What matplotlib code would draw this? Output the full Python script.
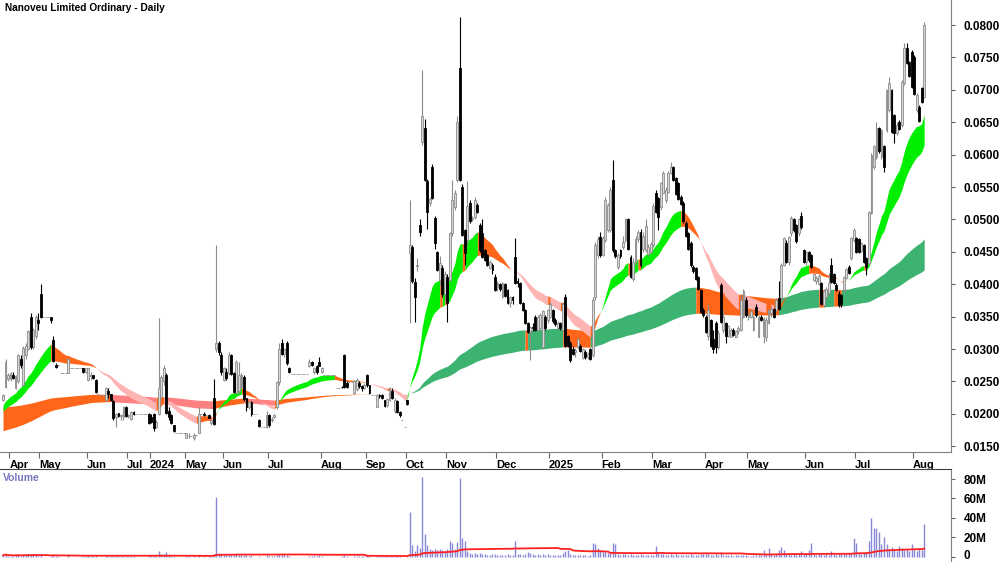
import numpy as np
import pandas as pd
import matplotlib
matplotlib.use("Agg")
import matplotlib.pyplot as plt
import matplotlib.transforms as mtransforms

plt.rcParams['font.family'] = ['Liberation Sans', 'DejaVu Sans']

# daily OHLC in thousandths of a dollar (0.0250 -> 25.0)
opens = [
    22.2, 24.2, 25.3, 25.3, 26.0, 24.0, 25.0, 28.5, 24.5, 29.0,
    30.0, 35.0, 30.3, 32.0, 34.5, 38.5, 35, 35, 35, 35.0,
    31.4, 27.6, 27.5, 26.3, 26.3, 26.3, 26.3, 27, 27, 27,
    27, 27, 27.0, 26.5, 25.2, 25.8, 26.0, 25.2, 23, 22.9,
    22.9, 22.1, 23.5, 23.0, 21.9, 19.5, 20.2, 19.6, 19.5, 21.0,
    19.6, 19.2, 20.3, 20, 20, 20, 20, 20, 20.0, 19.5,
    20.0, 18.0, 20.0, 22.6, 25.0, 26.0, 20.5, 19.8, 18.2, 17,
    17, 17, 17, 16.3, 16.5, 16.6, 16.2, 16.8, 17.0, 20,
    20.0, 19.8, 19.8, 18.6, 22.5, 30.0, 31.0, 29.0, 25.2, 26.5,
    26.3, 29.0, 26.3, 23.2, 23.5, 24.2, 25.7, 22.5, 21.0, 21.8,
    20, 20, 19.1, 18, 18, 18.0, 19.8, 19.0, 19.5, 21.1,
    24.9, 31.0, 29.2, 31.0, 27.0, 26.1, 26.1, 26.1, 26.1, 26.1,
    26.1, 26.1, 27.3, 28.0, 26.4, 27.3, 28.0, 26.4, 26, 26,
    26, 26, 26, 24, 24, 24.2, 29.0, 24.8, 24.9, 24.9,
    23.2, 23.8, 24.8, 24.3, 24.0, 26.0, 24.4, 22.9, 22.9, 21.1,
    22.9, 22.9, 22.1, 21.3, 22.1, 23.5, 20.5, 22.0, 20.3, 19.1,
    18, 22.1, 44.8, 45.7, 40.3, 42.8, 49.2, 62.0, 64.1, 56.0,
    52.5, 58.1, 50.2, 45.0, 40.6, 42.5, 38.5, 41.1, 40.7, 47.9,
    51.9, 56.1, 73.4, 55.0, 48.4, 46.8, 52.5, 50.0, 50.4, 52.2,
    49.1, 47.9, 45.3, 44.5, 42.5, 43.0, 41.1, 39.5, 40.0, 38.0,
    40.0, 39.1, 37.1, 38.0, 44.2, 40.5, 40.2, 37.1, 36.0, 34.0,
    32.6, 33.4, 35.0, 33.0, 33.3, 30.3, 35.0, 34.5, 35.0, 36.0,
    34.5, 33.2, 34.0, 33.0, 38.0, 32.0, 31.0, 30.0, 29.5, 30.3,
    30.5, 28.6, 29.5, 28.8, 30.0, 29.0, 38.0, 44.5, 47.3, 44.5,
    46.8, 48.4, 48.4, 56.1, 45.3, 42.7, 45.3, 45.8, 46.8, 50.0,
    44.2, 40.8, 43.5, 47.0, 48.1, 45.5, 45.3, 44.6, 45.0, 46.0,
    54.1, 53.3, 51.9, 54.1, 53.0, 54.3, 57.2, 58.1, 56.4, 55.6,
    53.5, 52.5, 49.5, 47.9, 46.4, 42.7, 42.5, 41.1, 39.1, 36.0,
    35.0, 32.0, 34.5, 31.5, 34.0, 30.3, 39.8, 33.0, 34.0, 32.0,
    31.9, 33.0, 31.9, 32.8, 33.0, 35.0, 37.6, 35.0, 35.0, 33.0,
    36.5, 31.9, 35.0, 32.0, 31.9, 34.0, 35.5, 36.2, 36.0, 37.9,
    37.9, 43.0, 46.4, 43.5, 47.9, 50.0, 49.1, 47.9, 50.5, 45.3,
    43.5, 45.0, 44.5, 40.7, 40.5, 40.0, 40.2, 36.8, 38.0, 38.6,
    43.0, 41.5, 39.9, 38.5, 38.3, 39.1, 41.0, 42.7, 44.0, 46.8,
    47.1, 47.0, 45.2, 46.0, 44.0, 43.3, 51.0, 58.1, 59.6, 64.1,
    59.6, 61.3, 63.8, 66.9, 70.0, 66.1, 63.3, 65.0, 64.6, 71.1,
    76.5, 74.3, 75.8, 75.1, 66.9, 67.4, 70.3, 68.9,
]
highs = [
    23.0, 28.5, 26.3, 26.5, 26.4, 26.0, 29.3, 29.0, 30.5, 31.0,
    33.0, 35.5, 33.3, 35.3, 35.5, 40.0, 35, 35, 35, 35.0,
    32.0, 27.8, 27.5, 26.3, 26.3, 26.3, 28.6, 27, 27, 27,
    27, 27, 27.0, 27.0, 27.0, 26.5, 26.0, 25.3, 23, 22.9,
    22.9, 24.2, 24.0, 23.0, 22.2, 20.2, 20.2, 20.0, 21.2, 21.2,
    20.0, 20.5, 20.5, 20, 20, 20, 20, 20, 20.2, 20.0,
    20.1, 19.0, 34.8, 26.0, 27.5, 26.3, 21.0, 20.0, 18.3, 17,
    17, 17, 17, 17.0, 17.0, 16.6, 17.0, 16.8, 21.0, 20,
    20.3, 19.8, 20.0, 19.0, 25.3, 46.0, 31.3, 29.5, 27.2, 27.0,
    29.5, 29.3, 26.5, 28.3, 28.0, 26.3, 26.0, 22.5, 22.0, 22.0,
    20, 20, 19.2, 18, 18, 20.5, 20.0, 19.5, 20.0, 25.0,
    31.0, 31.5, 30.2, 31.3, 27.2, 26.1, 26.1, 26.1, 26.1, 26.1,
    26.1, 26.1, 28.5, 28.2, 27.2, 27.5, 28.7, 27.2, 26, 26,
    26, 26, 26, 24, 24, 24.3, 29.2, 25.0, 24.9, 24.9,
    25.2, 25.5, 25.0, 24.5, 24.8, 26.2, 24.4, 22.9, 22.9, 23.0,
    23.0, 23.0, 22.2, 22.5, 24.2, 24.0, 22.5, 22.2, 20.5, 19.1,
    18, 22.2, 53.0, 46.0, 41.0, 44.0, 50.0, 73.1, 65.5, 56.2,
    53.5, 58.5, 50.5, 45.2, 44.3, 43.0, 42.0, 41.5, 48.0, 56.1,
    54.5, 66.0, 81.2, 55.5, 48.5, 56.0, 53.0, 50.5, 53.5, 52.5,
    49.5, 50.0, 45.5, 44.6, 43.8, 43.2, 41.5, 40.5, 40.2, 40.3,
    40.2, 39.3, 38.2, 38.2, 47.1, 41.0, 40.3, 37.2, 36.1, 34.2,
    33.5, 34.0, 35.3, 35.2, 35.5, 36.0, 35.3, 36.2, 37.2, 36.2,
    34.8, 34.3, 34.2, 37.2, 38.5, 32.2, 31.2, 30.5, 30.2, 31.7,
    30.7, 30.2, 29.8, 29.5, 30.2, 38.0, 46.5, 47.5, 48.0, 47.5,
    53.5, 52.5, 55.0, 59.2, 45.5, 44.8, 45.5, 47.5, 50.2, 50.2,
    44.5, 44.0, 47.5, 48.3, 48.5, 48.0, 50.0, 46.2, 46.5, 52.5,
    54.5, 53.5, 55.8, 57.5, 55.0, 57.5, 58.9, 58.3, 56.6, 55.8,
    53.8, 52.8, 49.8, 48.0, 46.6, 43.0, 42.7, 41.3, 39.3, 36.3,
    35.2, 37.0, 34.7, 33.0, 34.3, 33.0, 40.2, 36.0, 34.2, 33.7,
    33.2, 33.3, 33.0, 33.5, 38.5, 39.3, 38.0, 35.5, 36.0, 35.2,
    37.0, 35.2, 35.2, 35.0, 35.0, 36.2, 36.5, 36.3, 37.8, 40.5,
    43.2, 47.3, 46.8, 47.5, 50.5, 50.2, 49.3, 50.2, 51.1, 45.5,
    45.2, 45.2, 44.7, 41.6, 41.3, 41.5, 40.4, 39.2, 39.5, 41.7,
    44.0, 41.8, 40.2, 39.0, 38.5, 41.3, 42.5, 43.0, 47.3, 48.6,
    47.3, 47.2, 46.5, 46.2, 44.2, 51.3, 60.2, 61.5, 65.0, 64.3,
    64.0, 61.5, 70.2, 72.0, 70.2, 66.3, 65.0, 65.3, 71.5, 77.2,
    77.2, 74.5, 76.2, 75.3, 69.5, 67.6, 70.5, 80.5,
]
lows = [
    22.0, 24.0, 25.0, 25.0, 25.3, 23.8, 24.8, 27.0, 24.3, 28.5,
    29.8, 30.0, 30.0, 31.5, 33.0, 34.8, 35, 35, 35, 34.0,
    28.0, 27.0, 27.3, 26.3, 26.3, 26.3, 26.3, 27, 27, 27,
    27, 27, 26.3, 26.3, 25.0, 25.2, 25.3, 23.2, 23, 22.9,
    22.9, 22.0, 22.5, 22.0, 19.1, 18.0, 19.5, 19.0, 19.1, 19.5,
    19.3, 19.0, 19.8, 20, 20, 20, 20, 20, 18.5, 18.6,
    17.3, 17.8, 19.8, 22.5, 24.5, 20.0, 19.0, 18.5, 17.2, 17,
    17, 17, 17, 16.2, 16.3, 16.6, 16.0, 16.8, 17.0, 20,
    19.6, 19.8, 19.3, 18.3, 18.3, 29.5, 29.0, 26.0, 25.0, 25.2,
    26.0, 26.0, 23.2, 23.0, 23.0, 24.0, 22.0, 20.5, 20.8, 19.7,
    20, 20, 18.0, 18, 18, 17.8, 18.0, 18.8, 19.3, 20.8,
    24.5, 29.0, 28.8, 27.6, 26.3, 26.1, 26.1, 26.1, 26.1, 26.1,
    26.1, 26.1, 27.2, 27.4, 26.2, 26.2, 27.3, 26.3, 26, 26,
    26, 26, 26, 24, 24, 24.0, 24.0, 24.0, 24.9, 24.9,
    23.0, 23.5, 24.0, 23.5, 23.8, 24.2, 23.0, 22.9, 22.9, 21.0,
    22.5, 22.3, 21.0, 21.0, 22.0, 22.3, 20.2, 20.1, 19.5, 19.1,
    18, 21.4, 34.0, 40.2, 34.2, 42.0, 47.5, 61.5, 56.0, 48.5,
    52.0, 53.2, 45.5, 42.0, 39.8, 38.0, 37.5, 34.2, 40.5, 47.5,
    51.5, 55.8, 56.0, 47.5, 43.0, 46.0, 49.5, 49.8, 50.0, 51.0,
    45.0, 44.0, 43.6, 42.8, 42.3, 41.5, 39.0, 39.0, 39.0, 37.8,
    38.0, 37.0, 36.5, 37.0, 40.0, 39.5, 37.0, 35.8, 33.8, 32.5,
    28.3, 32.8, 32.8, 32.8, 33.0, 30.0, 33.0, 34.0, 34.8, 34.0,
    33.6, 33.0, 33.0, 32.8, 30.3, 30.3, 28.0, 29.0, 28.8, 30.0,
    29.5, 28.5, 28.5, 28.5, 28.3, 28.8, 37.5, 44.0, 44.2, 44.3,
    46.5, 48.0, 48.0, 45.0, 44.0, 42.3, 44.0, 45.5, 46.5, 45.3,
    41.0, 40.5, 43.0, 46.5, 42.7, 45.0, 45.0, 44.3, 44.8, 45.8,
    51.0, 48.4, 51.5, 54.0, 52.5, 54.0, 57.0, 56.0, 53.7, 53.0,
    52.2, 49.5, 47.3, 45.3, 42.7, 41.8, 40.6, 39.1, 35.5, 35.0,
    32.4, 31.4, 30.3, 29.4, 29.4, 30.0, 34.0, 32.5, 31.0, 31.8,
    31.8, 32.0, 31.9, 32.3, 32.8, 34.8, 35.0, 34.5, 34.8, 32.8,
    35.0, 31.8, 34.3, 31.0, 31.2, 33.8, 35.0, 34.8, 35.8, 36.0,
    37.5, 42.8, 43.3, 43.0, 47.5, 48.0, 46.4, 47.5, 48.5, 43.3,
    43.0, 43.5, 42.5, 40.5, 40.0, 39.8, 36.8, 36.5, 37.8, 38.4,
    40.2, 40.0, 39.0, 36.5, 36.5, 38.8, 40.8, 41.5, 43.8, 46.5,
    44.8, 44.8, 45.0, 43.3, 41.4, 43.0, 50.8, 57.8, 59.3, 60.2,
    59.3, 57.3, 63.5, 66.5, 63.3, 61.8, 63.0, 63.8, 64.2, 70.8,
    74.0, 72.0, 70.3, 69.2, 66.5, 65.0, 68.0, 68.7,
]
closes = [
    22.9, 28.0, 26.0, 26.3, 25.5, 25.8, 29.0, 27.5, 30.2, 30.5,
    32.8, 30.3, 33.0, 35.0, 34.0, 35.0, 35, 35, 35, 34.5,
    28.2, 27.2, 27.5, 26.3, 26.3, 26.3, 28.5, 27, 27, 27,
    27, 27, 26.5, 27.0, 27.0, 26.0, 25.5, 23.4, 23, 22.9,
    22.9, 24.0, 23.0, 22.2, 19.3, 20.0, 19.6, 19.8, 21.0, 19.6,
    19.8, 20.3, 20.0, 20, 20, 20, 20, 20, 18.6, 18.8,
    17.8, 18.8, 24.0, 25.7, 27.0, 20.2, 19.5, 18.6, 17.3, 17,
    17, 17, 17, 17.0, 16.6, 16.6, 16.8, 16.8, 20.0, 20,
    19.8, 19.8, 19.4, 19.0, 18.5, 31.0, 29.5, 26.5, 27.0, 25.5,
    29.0, 26.2, 23.4, 28.0, 26.0, 26.0, 22.3, 21.0, 21.8, 20.0,
    20, 20, 18.1, 18, 18, 19.8, 18.2, 19.2, 19.8, 24.9,
    30.0, 29.2, 30.0, 27.8, 26.4, 26.1, 26.1, 26.1, 26.1, 26.1,
    26.1, 26.1, 28.0, 27.6, 27.0, 26.4, 27.4, 27.0, 26, 26,
    26, 26, 26, 24, 24, 24.1, 24.2, 24.2, 24.9, 24.9,
    25.0, 25.2, 24.3, 24.0, 24.5, 24.4, 23.2, 22.9, 22.9, 22.9,
    22.7, 22.4, 21.2, 22.3, 24.0, 22.5, 22.2, 20.3, 19.8, 19.1,
    18, 21.5, 46.0, 40.5, 38.0, 43.0, 48.0, 66.0, 56.1, 51.1,
    53.1, 53.3, 46.4, 42.2, 43.3, 38.5, 41.5, 37.1, 47.9, 53.0,
    54.1, 65.0, 56.1, 47.6, 44.8, 52.0, 49.8, 50.2, 53.0, 51.2,
    45.3, 44.2, 43.8, 43.0, 43.5, 42.2, 39.1, 40.2, 39.2, 40.2,
    38.2, 37.1, 38.0, 37.5, 40.2, 40.2, 37.1, 36.0, 34.0, 32.6,
    33.4, 33.2, 33.0, 35.0, 35.3, 35.8, 33.2, 36.0, 37.0, 34.3,
    33.8, 34.0, 33.2, 37.0, 30.5, 30.5, 28.3, 29.2, 29.8, 31.5,
    29.7, 30.0, 28.8, 29.2, 28.5, 37.5, 46.0, 47.0, 44.5, 47.2,
    53.0, 52.2, 54.5, 45.3, 44.3, 44.5, 44.3, 46.5, 50.0, 45.5,
    41.1, 43.5, 47.0, 48.0, 43.0, 47.5, 49.0, 45.8, 46.2, 52.0,
    51.2, 50.4, 55.6, 57.2, 54.6, 57.2, 58.1, 56.1, 53.9, 53.2,
    52.3, 49.8, 47.5, 45.5, 42.9, 42.0, 40.8, 39.3, 35.7, 35.2,
    32.6, 36.0, 30.5, 30.0, 30.3, 32.5, 34.2, 35.0, 32.0, 33.5,
    33.0, 32.2, 32.8, 33.2, 37.6, 39.0, 35.2, 35.3, 35.8, 35.0,
    35.2, 35.0, 34.5, 34.8, 34.5, 36.0, 36.2, 35.0, 37.6, 36.2,
    43.0, 47.1, 43.5, 47.3, 50.2, 48.3, 46.6, 50.0, 48.8, 43.5,
    45.0, 43.8, 42.7, 41.5, 41.0, 41.2, 37.0, 39.0, 39.2, 40.2,
    40.4, 40.2, 39.1, 36.8, 37.0, 41.1, 42.3, 41.8, 47.1, 48.4,
    45.0, 45.0, 46.3, 43.5, 42.7, 51.1, 60.0, 61.3, 64.1, 60.5,
    63.8, 58.1, 70.0, 71.0, 63.5, 63.3, 64.6, 64.0, 71.2, 76.5,
    74.1, 72.2, 70.5, 69.4, 69.2, 65.2, 68.1, 80.0,
]
# daily volume, millions of shares
volume_m = [
    1.5, 3.0, 1.0, 1.2, 0.8, 1.5, 2.5, 1.0, 2.0, 1.5,
    2.5, 3.0, 1.5, 2.0, 1.0, 3.0, 0.2, 0.2, 0.2, 0.5,
    2.0, 1.0, 0.5, 0.2, 0.2, 0.2, 1.5, 0.2, 0.2, 0.2,
    0.2, 0.2, 0.8, 1.0, 1.5, 1.0, 0.8, 1.5, 0.2, 0.2,
    0.2, 1.5, 1.0, 0.8, 2.0, 1.5, 1.0, 0.8, 1.5, 1.0,
    0.8, 1.0, 0.5, 0.2, 0.2, 0.2, 0.2, 0.2, 1.5, 1.0,
    2.0, 1.0, 6.0, 3.0, 2.5, 5.0, 1.5, 1.0, 1.0, 0.2,
    0.2, 0.2, 0.2, 0.8, 0.5, 0.2, 0.8, 0.2, 1.5, 0.2,
    0.8, 0.2, 0.8, 0.8, 3.0, 61.0, 4.0, 3.0, 2.0, 1.5,
    2.5, 2.0, 2.0, 2.5, 2.0, 1.5, 2.0, 1.5, 1.0, 1.5,
    0.2, 0.2, 1.0, 0.2, 0.2, 1.5, 1.0, 0.8, 0.8, 2.0,
    3.0, 2.5, 1.5, 2.0, 1.0, 0.2, 0.2, 0.2, 0.2, 0.2,
    0.2, 0.2, 1.0, 0.8, 1.0, 1.0, 1.5, 1.0, 0.2, 0.2,
    0.2, 0.2, 0.2, 0.2, 0.2, 0.5, 2.0, 1.0, 0.2, 0.2,
    1.0, 1.0, 0.8, 0.8, 0.8, 1.5, 1.0, 0.2, 0.2, 1.0,
    0.8, 0.8, 1.0, 0.8, 1.0, 0.8, 1.0, 1.0, 0.8, 0.2,
    0.2, 1.0, 46.0, 12.0, 6.0, 12.5, 9.0, 82.0, 23.0, 12.0,
    8.0, 7.0, 8.0, 7.0, 8.0, 7.0, 6.0, 8.0, 16.0, 14.0,
    8.0, 15.0, 81.0, 19.0, 16.0, 6.0, 4.0, 3.0, 4.0, 3.0,
    3.5, 3.0, 2.5, 2.0, 2.0, 2.5, 3.0, 2.0, 1.5, 2.0,
    2.0, 2.5, 1.5, 2.0, 16.0, 3.0, 2.5, 2.0, 3.0, 5.0,
    4.0, 2.5, 2.0, 2.5, 2.0, 3.0, 2.0, 2.5, 2.0, 1.5,
    2.0, 1.5, 2.0, 4.0, 6.0, 7.0, 3.0, 2.0, 2.0, 1.5,
    2.0, 1.5, 1.5, 1.0, 2.0, 14.0, 13.0, 9.0, 7.0, 5.0,
    6.0, 4.0, 5.0, 14.0, 13.0, 3.0, 2.0, 2.5, 3.0, 2.0,
    2.5, 2.0, 1.5, 2.0, 2.5, 1.5, 2.0, 1.5, 1.5, 2.0,
    11.0, 4.0, 3.0, 2.5, 2.0, 2.0, 3.0, 2.0, 2.5, 2.0,
    2.0, 1.5, 2.0, 2.0, 2.5, 1.5, 2.0, 2.0, 3.0, 2.5,
    3.0, 2.5, 2.0, 2.0, 2.5, 1.5, 5.0, 2.0, 1.5, 1.5,
    1.5, 1.0, 1.5, 1.5, 2.0, 2.0, 1.5, 1.0, 1.0, 1.5,
    2.0, 1.5, 2.0, 7.0, 2.0, 9.0, 3.0, 2.0, 3.0, 7.0,
    10.0, 7.0, 3.0, 2.5, 2.0, 3.0, 2.0, 2.5, 6.0, 3.0,
    2.5, 7.0, 14.0, 3.0, 2.0, 2.5, 3.0, 2.0, 2.5, 2.0,
    6.0, 2.5, 2.0, 3.0, 2.5, 3.0, 2.5, 3.0, 4.0, 19.0,
    14.0, 4.0, 3.0, 4.0, 5.0, 16.0, 40.0, 30.0, 30.0, 26.0,
    13.0, 20.0, 13.0, 8.0, 10.0, 7.0, 6.0, 11.0, 9.0, 7.0,
    8.0, 6.0, 13.0, 7.0, 6.0, 8.0, 7.0, 34.0,
]

# first bar of each labelled month
month_start = [3, 15, 34, 50, 59, 73, 88, 106, 127, 145, 161,
               177, 197, 218, 239, 259, 280, 297, 320, 340, 363]
month_labels = ['Apr', 'May', 'Jun', 'Jul', '2024', 'May', 'Jun', 'Jul',
                'Aug', 'Sep', 'Oct', 'Nov', 'Dec', '2025', 'Feb', 'Mar',
                'Apr', 'May', 'Jun', 'Jul', 'Aug']
price_ticks = [0.015, 0.020, 0.025, 0.030, 0.035, 0.040, 0.045,
               0.050, 0.055, 0.060, 0.065, 0.070, 0.075, 0.080]
vol_ticks = [0, 20, 40, 60, 80]
vol_tick_labels = ['0', '20M', '40M', '60M', '80M']

# moving-average ribbons: (period, starting value before the first bar)
fast_pair = [(21, 0.0212), (34, 0.0202)]
slow_pair = [(150, 0.0173), (250, 0.0210)]


def ema(values, period, seed):
    alpha = 2.0 / (period + 1)
    out = []
    prev = seed
    for v in values:
        prev = prev + alpha * (v - prev)
        out.append(prev)
    return np.array(out)


o = np.array(opens) / 1000
h = np.array(highs) / 1000
l = np.array(lows) / 1000
c = np.array(closes) / 1000
vol = np.array(volume_m)
n = len(c)
x = np.arange(n)

W, H = 1000, 562


def rect(left, top, right, bottom):
    return [left / W, 1 - bottom / H, (right - left) / W, (bottom - top) / H]


fig = plt.figure(figsize=(10, 5.62), dpi=100)
ax = fig.add_axes(rect(0, 0, 951, 452))
axv = fig.add_axes(rect(0, 469, 951, 562))


def draw_ribbon(a, b, cols):
    # green: fast edge above and rising, pale: below and falling, orange: mixed
    rising = np.r_[True, np.diff(a) > 0]
    above = a > b
    state = np.where(above & rising, 0, np.where(~above & ~rising, 2, 1))
    start = 0
    for i in range(1, n + 1):
        if i == n or state[i] != state[start]:
            s = max(start - 1, 0)
            ax.fill_between(x[s:i], a[s:i], b[s:i], color=cols[state[start]],
                            lw=0, zorder=1)
            start = i


fa = ema(c, *fast_pair[0])
fb = ema(c, *fast_pair[1])
sa = ema(c, *slow_pair[0])
sb = ema(c, *slow_pair[1])
draw_ribbon(sa, sb, ['#3cb371', '#ff661a', '#ff8080'])
draw_ribbon(fa, fb, ['#00ee00', '#ff661a', '#ffb4b4'])

# candles
up = c >= o
lo = np.minimum(o, c)
ht = np.abs(c - o)
ax.vlines(x[up], l[up], h[up], color='#8c8c8c', lw=0.8, zorder=2)
ax.vlines(x[~up], l[~up], h[~up], color='black', lw=0.8, zorder=2)
ax.bar(x[up], ht[up], 0.75, lo[up], color='#d8d8d8', edgecolor='#8c8c8c',
       lw=0.6, zorder=3)
ax.bar(x[~up], ht[~up], 0.75, lo[~up], color='black', edgecolor='black',
       lw=0.6, zorder=3)

xl = (-3 / 2.51, (951 - 3) / 2.51)
ax.set_xlim(xl)
ax.set_ylim(0.08 - (452 - 25) * 0.005 / 32.4, 0.08 + 25 * 0.005 / 32.4)
ax.yaxis.tick_right()
ax.set_yticks(price_ticks)
ax.set_yticklabels([f'{t:.4f}' for t in price_ticks])
ax.tick_params(axis='y', length=3, pad=6, labelsize=8.5, color='#666666')
ax.set_xticks(np.array(month_start) - 0.5)
ax.set_xticklabels(month_labels)
for lab in ax.get_xticklabels():
    lab.set_horizontalalignment('left')
ax.tick_params(axis='x', length=4, pad=1.5, labelsize=8, color='#666666')
for lab in ax.get_xticklabels() + ax.get_yticklabels():
    lab.set_fontweight('bold')
for side in ['left', 'top']:
    ax.spines[side].set_visible(False)
ax.spines['right'].set_color('#808080')
ax.spines['bottom'].set_color('#808080')

# volume panel
avg = pd.Series(vol).rolling(60, min_periods=1).mean()
axv.vlines(x, 0, vol, color='#8888d8', lw=1.0)
axv.plot(x, avg, color='#ff2020', lw=1.3)
axv.set_xlim(xl)
px_per_m = (556.8 - 479) / 80
axv.set_ylim(-(562 - 556.8) / px_per_m, (556.8 - 469) / px_per_m)
axv.yaxis.tick_right()
axv.set_yticks(vol_ticks)
axv.set_yticklabels(vol_tick_labels)
axv.tick_params(axis='y', length=3, pad=6, labelsize=8.5, color='#666666')
for lab in axv.get_yticklabels():
    lab.set_fontweight('bold')
    lab.set_verticalalignment('center_baseline')
# keep the "0" label clear of the bottom edge
zero_lab = axv.get_yticklabels()[0]
zero_lab.set_transform(zero_lab.get_transform() +
                       mtransforms.ScaledTranslation(0, 2 / 100, fig.dpi_scale_trans))
axv.set_xticks([])
for side in ['left', 'bottom']:
    axv.spines[side].set_visible(False)
axv.spines['right'].set_color('#808080')
axv.spines['top'].set_color('#404040')

fig.text(5 / W, 1 - 8 / H, 'Nanoveu Limited Ordinary - Daily', fontsize=7.3,
         fontweight='bold', va='center', ha='left')
fig.text(3 / W, 1 - 478 / H, 'Volume', fontsize=7.5, fontweight='bold',
         color='#7878c0', va='center', ha='left')

fig.savefig('out.png', dpi=100)
